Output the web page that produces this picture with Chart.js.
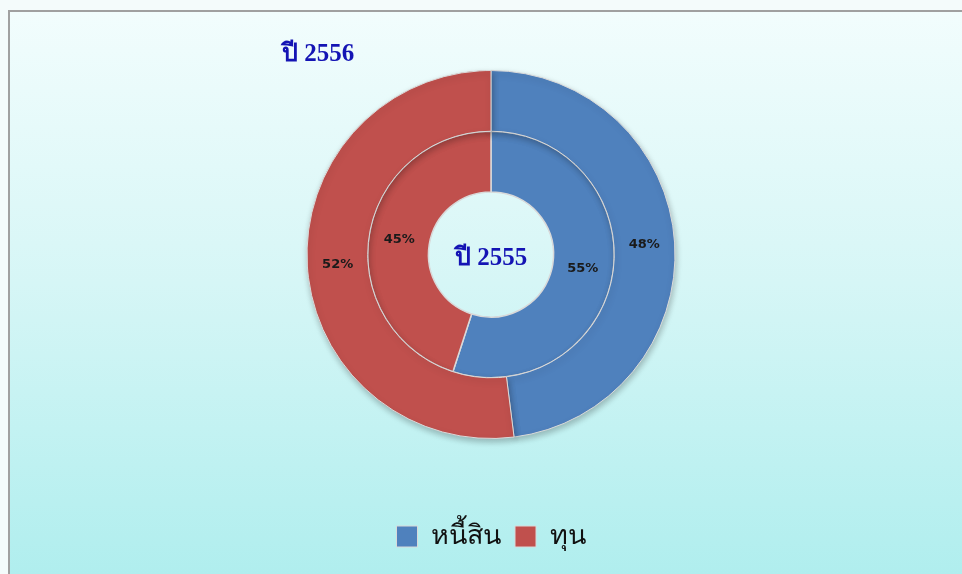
<!DOCTYPE html>
<html>
<head>
<meta charset="utf-8">
<script src="https://cdn.jsdelivr.net/npm/chart.js@4.4.1/dist/chart.umd.min.js"></script>
<style>
  html, body { margin: 0; padding: 0; }
  body {
    width: 962px; height: 574px; overflow: hidden;
    background: #f4fbfb;
    position: relative;
  }
  .frame {
    position: absolute; left: 8px; top: 10px; width: 1000px; height: 600px;
    border: 2px solid #a0a0a0;
    background: linear-gradient(to bottom, #f2fdfd 0%, #d6f6f6 45%, #abeded 100%);
  }
  #wrap { position: absolute; left: 0; top: 0; width: 962px; height: 574px; }
</style>
</head>
<body>
<div class="frame"></div>
<div id="wrap"><canvas id="myChart"></canvas></div>
<script>
// chart data
const categories = ['หนี้สิน', 'ทุน'];
const values2556 = [48, 52];   // outer ring
const values2555 = [55, 45];   // inner ring
const yearLabels = ['ปี 2556', 'ปี 2555'];
const colors = ['#4f81bd', '#c0504d'];

// percent labels on each slice
const sliceLabels = {
  id: 'sliceLabels',
  afterDatasetsDraw(chart) {
    const ctx = chart.ctx;
    ctx.save();
    ctx.font = 'bold 13px "DejaVu Sans", sans-serif';
    ctx.fillStyle = '#1a1a1a';
    ctx.textAlign = 'center';
    ctx.textBaseline = 'middle';
    chart.data.datasets.forEach((ds, i) => {
      chart.getDatasetMeta(i).data.forEach((arc, j) => {
        const p = arc.tooltipPosition();
        ctx.fillText(ds.data[j] + '%', p.x, p.y);
      });
    });
    ctx.restore();
  }
};

// year captions
const yearText = {
  id: 'yearText',
  afterDraw(chart) {
    const ctx = chart.ctx;
    const arc = chart.getDatasetMeta(0).data[0];
    ctx.save();
    ctx.font = 'bold 25px "Liberation Serif", serif';
    ctx.fillStyle = '#1414b4';
    ctx.textAlign = 'center';
    ctx.textBaseline = 'middle';
    ctx.fillText(yearLabels[0], 318, 55);
    ctx.fillText(yearLabels[1], arc.x, arc.y + 4);
    ctx.restore();
  }
};

// soft shadow under the outer ring
const ringShadow = {
  id: 'ringShadow',
  beforeDatasetDraw(chart, args) {
    if (args.index !== 0) return;
    const ctx = chart.ctx;
    ctx.save();
    ctx.shadowColor = 'rgba(0,0,0,0.25)';
    ctx.shadowBlur = 6;
    ctx.shadowOffsetX = 1;
    ctx.shadowOffsetY = 3;
  },
  afterDatasetDraw(chart, args) {
    if (args.index !== 0) return;
    chart.ctx.restore();
  }
};

const ctx = document.getElementById('myChart').getContext('2d');
new Chart(ctx, {
  type: 'doughnut',
  data: {
    labels: categories,
    datasets: [{
      label: yearLabels[0],
      data: values2556,
      backgroundColor: colors,
      borderColor: '#d9d9d9',
      borderWidth: 1
    }, {
      label: yearLabels[1],
      data: values2555,
      backgroundColor: colors,
      borderColor: '#d9d9d9',
      borderWidth: 1.5
    }]
  },
  options: {
    responsive: true,
    maintainAspectRatio: false,
    animation: false,
    radius: 184,
    cutout: '34%',
    layout: { padding: { left: 20, right: 0, top: 0, bottom: 14 } },
    plugins: {
      tooltip: { enabled: false },
      legend: {
        position: 'bottom',
        labels: {
          boxWidth: 21,
          boxHeight: 21,
          padding: 14,
          color: '#111',
          font: { size: 27, family: 'Tahoma, "Noto Sans", sans-serif' }
        }
      }
    }
  },
  plugins: [ringShadow, sliceLabels, yearText]
});
</script>
</body>
</html>
